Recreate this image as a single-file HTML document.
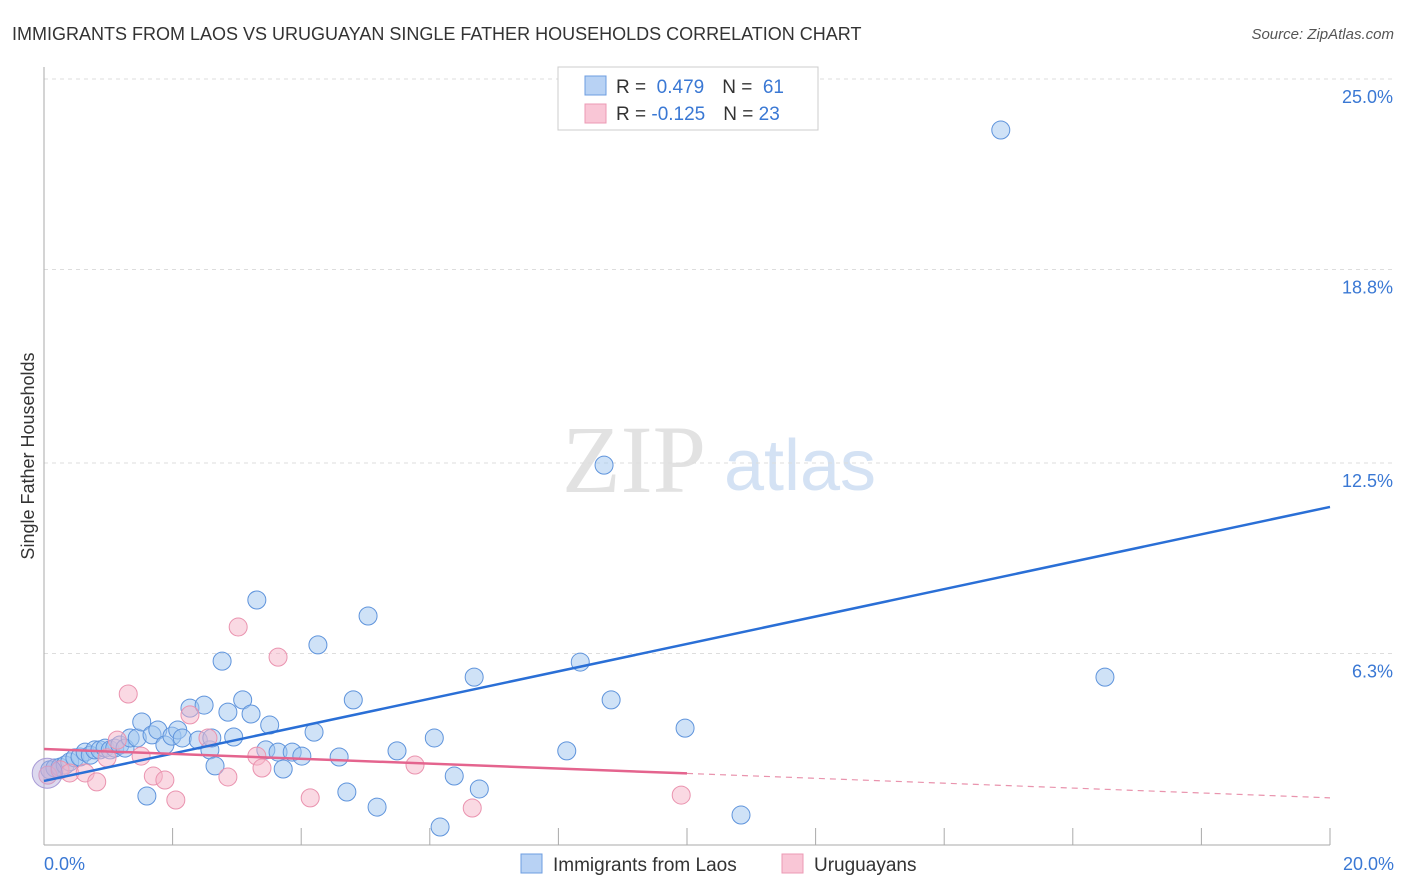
<!DOCTYPE html>
<html><head><meta charset="utf-8">
<style>
body{margin:0;background:#fff;font-family:"Liberation Sans",sans-serif;}
svg{display:block}
</style></head><body>
<svg width="1406" height="892" viewBox="0 0 1406 892">
<text x="12" y="40" font-size="18" fill="#333">IMMIGRANTS FROM LAOS VS URUGUAYAN SINGLE FATHER HOUSEHOLDS CORRELATION CHART</text>
<text x="1394" y="39" font-size="15" fill="#555" font-style="italic" text-anchor="end">Source: ZipAtlas.com</text>
<text x="634" y="492" font-size="96" fill="#e2e2e2" font-family="Liberation Serif" text-anchor="middle">ZIP</text>
<text x="800" y="490" font-size="72" fill="#d4e2f4" text-anchor="middle">atlas</text>
<text transform="translate(34,456) rotate(-90)" font-size="18" fill="#333" text-anchor="middle">Single Father Households</text>
<g id="grid"></g>
<g id="axes"></g>
<g id="marks"></g>
<g>
<rect x="558" y="67" width="260" height="63" fill="#fff" stroke="#ccc"/>
<rect x="585" y="76" width="21" height="19" fill="#b8d2f4" stroke="#6d9de0"/>
<rect x="585" y="104" width="21" height="19" fill="#f9c6d6" stroke="#ec9ab4"/>
<text x="616" y="93" font-size="19" fill="#333">R = <tspan fill="#3a78d4">&#160;0.479</tspan><tspan dx="18">N = </tspan><tspan fill="#3a78d4">&#160;61</tspan></text>
<text x="616" y="120" font-size="19" fill="#333">R = <tspan fill="#3a78d4">-0.125</tspan><tspan dx="18">N = </tspan><tspan fill="#3a78d4">23</tspan></text>
</g>
<g>
<rect x="521" y="854" width="21" height="19" fill="#b8d2f4" stroke="#6d9de0"/>
<text x="553" y="871" font-size="19" fill="#333">Immigrants from Laos</text>
<rect x="782" y="854" width="21" height="19" fill="#f9c6d6" stroke="#ec9ab4"/>
<text x="814" y="871" font-size="19" fill="#333">Uruguayans</text>
</g>
</svg>
<script>
const yTicks=[25.0,18.8,12.5,6.3];
const yTickLabels=["25.0%","18.8%","12.5%","6.3%"];
const xTickCount=10;
const xLabels=["0.0%","20.0%"];
const laosX=[0.09,0.17,0.25,0.33,0.40,0.48,0.56,0.64,0.72,0.79,0.87,0.95,1.03,1.10,1.18,1.26,1.34,1.45,1.52,1.60,1.68,1.77,1.88,1.99,2.08,2.15,2.27,2.40,2.49,2.58,2.61,2.66,2.77,2.86,2.95,3.09,3.22,3.31,3.45,3.51,3.64,3.72,3.86,4.01,4.20,4.26,4.59,4.71,4.81,5.04,5.18,5.49,6.07,6.16,6.38,6.69,6.77,8.13,8.34,8.71,8.82,9.97,10.84,14.88,16.50];
const laosY=[2.51,2.57,2.60,2.67,2.77,2.90,2.93,3.09,2.99,3.16,3.16,3.22,3.16,3.22,3.32,3.22,3.55,3.55,4.07,1.66,3.65,3.81,3.32,3.61,3.81,3.55,4.52,3.48,4.62,3.16,3.55,2.64,6.05,4.39,3.58,4.79,4.33,8.04,3.16,3.97,3.09,2.54,3.09,2.96,3.74,6.58,2.93,1.79,4.79,7.52,1.30,3.13,3.55,0.65,2.31,5.53,1.89,3.13,6.02,12.43,4.79,3.87,1.04,23.34,5.53];
const uruX=[0.06,0.25,0.40,0.64,0.82,0.98,1.14,1.31,1.51,1.70,1.88,2.05,2.27,2.55,2.86,3.02,3.31,3.39,3.64,4.14,5.77,6.66,9.91];
const uruY=[2.34,2.51,2.41,2.41,2.12,2.90,3.48,4.98,2.96,2.31,2.18,1.53,4.30,3.55,2.28,7.16,2.96,2.57,6.18,1.60,2.67,1.27,1.69];
const laosLine=[2.15,11.07]; // y at x=0 and x=20
const uruLine=[3.19,1.60];
const uruSolidEnd=10;

const X=v=>44+v*64.3, Y=v=>847-v*30.72;
const NS="http://www.w3.org/2000/svg";
function mk(p,t,a){const e=document.createElementNS(NS,t);for(const k in a)e.setAttribute(k,a[k]);p.appendChild(e);return e;}
const grid=document.getElementById('grid'),axes=document.getElementById('axes'),marks=document.getElementById('marks');
yTicks.forEach((t,i)=>{
 const l=mk(grid,'line',{x1:44,x2:1394,y1:Y(t),y2:Y(t),stroke:'#ddd','stroke-dasharray':'4,4'});
 
 
 const tx=mk(grid,'text',{x:1393,y:Y(t)+24,'font-size':18,fill:'#3a78d4','text-anchor':'end'});
 tx.textContent=yTickLabels[i];
 
 
});
const ya=mk(axes,'line',{x1:44,x2:44,y1:67,y2:845,stroke:'#aaa'});


const xa=mk(axes,'line',{x1:44,x2:1330,y1:845,y2:845,stroke:'#aaa'});


for(let i=0;i<=xTickCount;i++){
 const xv=X(i*20/xTickCount);
 const t=mk(axes,'line',{x1:xv,x2:xv,y1:828,y2:845,stroke:'#aaa'});
 
 
}
const xl0=mk(axes,'text',{x:44,y:870,'font-size':18,fill:'#3a78d4'});xl0.textContent=xLabels[0];


const xl1=mk(axes,'text',{x:1394,y:870,'font-size':18,fill:'#3a78d4','text-anchor':'end'});xl1.textContent=xLabels[1];



laosX.forEach((x,i)=>{
 const c=mk(marks,'circle',{cx:X(x),cy:Y(laosY[i]),r:9,fill:'rgba(160,197,240,0.5)',stroke:'#5f94dc','stroke-width':1});
 
 
});
uruX.forEach((x,i)=>{
 const c=mk(marks,'circle',{cx:X(x),cy:Y(uruY[i]),r:9,fill:'rgba(246,180,200,0.5)',stroke:'#ea93af','stroke-width':1});
 
 
});
const big=mk(marks,'circle',{cx:X(0.05),cy:Y(2.4),r:15,fill:'rgba(180,170,220,0.45)',stroke:'#a99cd6'});


const bl=mk(marks,'line',{x1:X(0),y1:Y(laosLine[0]),x2:X(20),y2:Y(laosLine[1]),stroke:'#2a6fd6','stroke-width':2.5});


const uy=x=>uruLine[0]+(uruLine[1]-uruLine[0])*x/20;
const pl=mk(marks,'line',{x1:X(0),y1:Y(uy(0)),x2:X(uruSolidEnd),y2:Y(uy(uruSolidEnd)),stroke:'#e4648e','stroke-width':2.5});


const pd=mk(marks,'line',{x1:X(uruSolidEnd),y1:Y(uy(uruSolidEnd)),x2:X(20),y2:Y(uy(20)),stroke:'#e993ad','stroke-width':1.2,'stroke-dasharray':'6,5'});


</script>
</body></html>
